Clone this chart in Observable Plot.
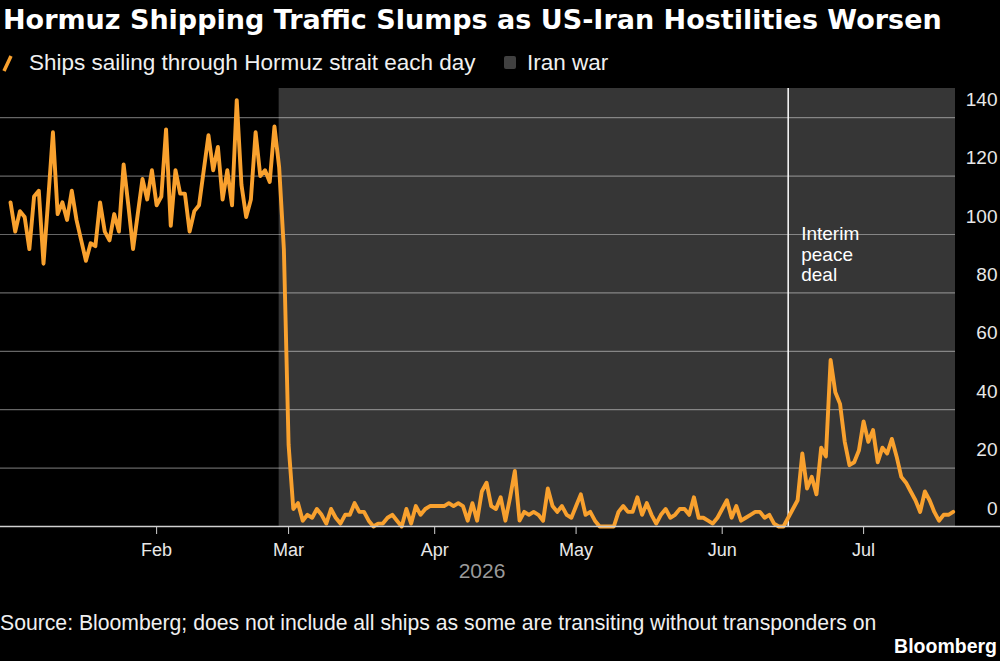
<!DOCTYPE html>
<html>
<head>
<meta charset="utf-8">
<script src="https://cdn.jsdelivr.net/npm/d3@7"></script>
<script src="https://cdn.jsdelivr.net/npm/@observablehq/plot@0.6"></script>
<style>
  html, body { margin: 0; padding: 0; background: #000; }
  #page { position: relative; width: 1000px; height: 661px; overflow: hidden; background: #000; color: #fff;
          font-family: "Liberation Sans", Arial, sans-serif; }
  .abs { position: absolute; white-space: nowrap; line-height: 1; }
  #title { left: 3px; top: 6px; font-family: "DejaVu Sans", sans-serif; font-weight: bold; font-size: 27px; }
  #legend { left: 0; top: 52px; font-size: 22.5px; color: #f0f0f0; }
  #chart { position: absolute; left: 0; top: 84px; }
  #source { left: 0; top: 612px; font-size: 21.2px; color: #f0f0f0; }
  #brand { right: 3px; top: 637px; font-size: 19.5px; font-weight: bold; }
</style>
</head>
<body>
<div id="page">
  <div id="title" class="abs"></div>
  <div id="legend" class="abs"></div>
  <div id="chart"></div>
  <div id="source" class="abs"></div>
  <div id="brand" class="abs"></div>
</div>
<script>
// Daily count of ships sailing through the Strait of Hormuz, starting 1 Jan 2026
const firstDay = "2026-01-01";
const ships = [
  111, 101, 108, 106, 95, 113, 115, 90, 112, 135,
  107, 111, 105, 115, 105, 98, 91, 97, 96, 111,
  101, 98, 107, 101, 124, 110, 95, 107, 119, 112,
  122, 110, 113, 136, 103, 122, 114, 114, 101, 108,
  110, 122, 134, 122, 130, 112, 122, 110, 146, 117,
  106, 112, 135, 120, 122, 118, 137, 123, 95, 28,
  6, 8, 2, 4, 3, 6, 4, 1, 6, 3,
  1, 4, 4, 8, 5, 5, 2, 0, 1, 1,
  3, 4, 2, 0, 6, 1, 7, 4, 6, 7,
  7, 7, 7, 8, 7, 8, 7, 2, 8, 2,
  12, 15, 7, 6, 10, 2, 10, 19, 2, 5,
  4, 5, 4, 2, 13, 7, 5, 7, 4, 3,
  7, 11, 4, 5, 2, 0, 0, 0, 0, 5,
  7, 5, 5, 10, 4, 8, 4, 1, 4, 6,
  3, 4, 6, 6, 4, 10, 3, 3, 2, 1,
  3, 6, 9, 3, 7, 2, 3, 4, 5, 5,
  3, 4, 1, 0, 0, 3, 6, 9, 25, 13,
  17, 11, 27, 24, 57, 46, 42, 29, 21, 22,
  26, 36, 29, 33, 22, 27, 25, 30, 24, 17,
  15, 12, 9, 5, 12, 9, 5, 2, 4, 4,
  5
];

// Axis setup
const xDomain = ["2025-12-29T21:00Z", "2026-07-20T12:00Z"];
const monthTicks = ["2026-02-01", "2026-03-01", "2026-04-01", "2026-05-01", "2026-06-01", "2026-07-01"];
const yTicks = [0, 20, 40, 60, 80, 100, 120, 140];
const yDomain = [0, 150];
const yearLabel = "2026";

// Shaded conflict period and the truce marker
const warStart = "2026-02-27";
const peaceDeal = "2026-06-15";
const peaceNote = [{date: peaceDeal, y: 103, label: "Interim\npeace\ndeal"}];

// Texts
const titleText = "Hormuz Shipping Traffic Slumps as US-Iran Hostilities Worsen";
const seriesName = "Ships sailing through Hormuz strait each day";
const bandName = "Iran war";
const sourceText = "Source: Bloomberg; does not include all ships as some are transiting without transponders on";
const brandText = "Bloomberg";

const orange = "#f9a12e";
const bandFill = "#363636";

const start = new Date(firstDay);
const series = ships.map((v, i) => ({date: d3.utcDay.offset(start, i), ships: v}));
const domain = xDomain.map(d => new Date(d));

document.getElementById("title").textContent = titleText;
document.getElementById("source").textContent = sourceText;
document.getElementById("brand").textContent = brandText;
document.getElementById("legend").innerHTML =
  `<svg width="16" height="22" style="position:absolute;left:0;top:0;overflow:visible">
     <line x1="4" y1="19" x2="11" y2="4" stroke="${orange}" stroke-width="3.5"/>
   </svg>
   <span style="position:absolute;left:29px;top:0">${seriesName}</span>
   <span style="position:absolute;left:504px;top:4px;width:12px;height:13px;border-radius:2px;background:#404040"></span>
   <span style="position:absolute;left:527px;top:0">${bandName}</span>`;

const chart = Plot.plot({
  width: 1000,
  height: 506,
  marginTop: 4,
  marginBottom: 64,
  marginLeft: 0,
  marginRight: 45,
  style: {background: "transparent", color: "#e8e8e8", fontFamily: "Liberation Sans, Arial, sans-serif", overflow: "visible"},
  x: {type: "utc", domain},
  y: {domain: yDomain},
  marks: [
    Plot.rect([{start: new Date(warStart), end: domain[1]}], {x1: "start", x2: "end", fill: bandFill}),
    Plot.gridY(yTicks.filter(d => d > 0), {stroke: "#fff", strokeOpacity: 0.4, strokeWidth: 1.2}),
    Plot.ruleX([new Date(peaceDeal)], {stroke: "#fff", strokeWidth: 1.5}),
    Plot.text(peaceNote.map(d => ({...d, date: new Date(d.date)})), {
      x: "date", y: "y", text: "label", dx: 13, textAnchor: "start", lineAnchor: "top",
      fill: "#fff", fontSize: 19, lineHeight: 1.08
    }),
    Plot.line(series, {x: "date", y: "ships", stroke: orange, strokeWidth: 3.9, strokeLinejoin: "round"}),
    Plot.ruleY([0], {stroke: "#d0d0d0", strokeWidth: 1.5, insetRight: -45}),
    Plot.axisX(monthTicks.map(d => new Date(d)), {
      tickSize: 8, tickPadding: 9, tickFormat: d3.utcFormat("%b"), label: null,
      stroke: "#d0d0d0", fill: "#e8e8e8", fontSize: 18
    }),
    Plot.text([yearLabel], {frameAnchor: "bottom", dx: 4, dy: 51, fill: "#9a9a9a", fontSize: 21}),
    Plot.axisY(yTicks, {
      anchor: "right", tickSize: 0, tickPadding: 42, textAnchor: "end", dy: -18, label: null,
      fill: "#e8e8e8", fontSize: 19
    })
  ]
});
document.getElementById("chart").appendChild(chart);
</script>
</body>
</html>
